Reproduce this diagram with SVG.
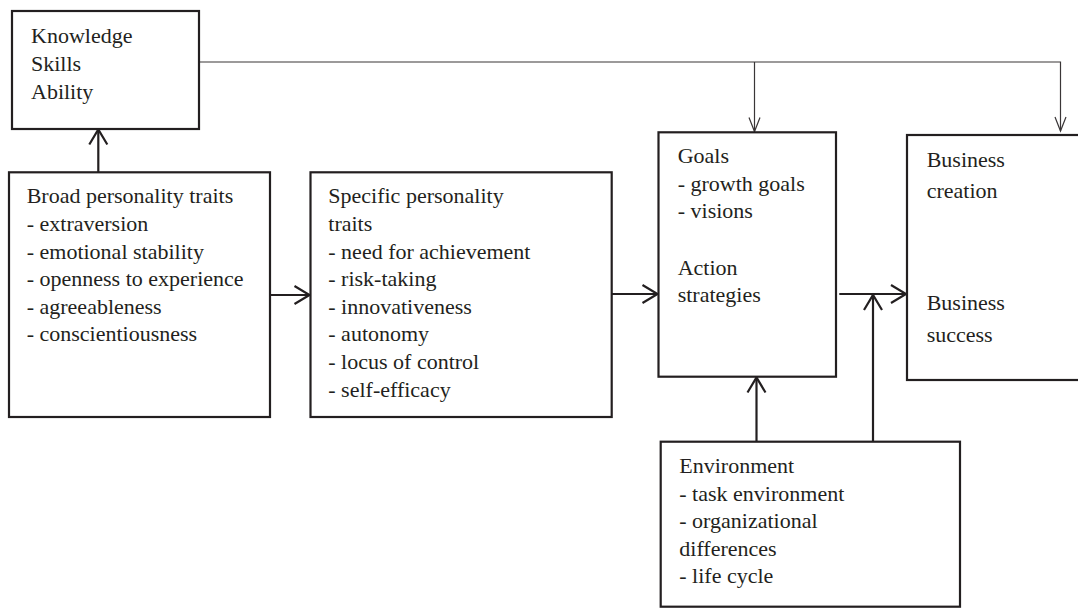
<svg xmlns="http://www.w3.org/2000/svg" width="1078" height="608" viewBox="0 0 1078 608">
  <style>
    .box { fill: #ffffff; stroke: #231f20; stroke-width: 2.2; }
    .lbl { font-family: "Liberation Serif", "Times New Roman", Times, serif; font-size: 22px; fill: #231f20; }
    .conn { fill: none; stroke: #231f20; stroke-width: 2.2; }
    .thin { fill: none; stroke: #3a3637; stroke-width: 1.2; }
  </style>
  <defs>
    <marker id="open" markerUnits="userSpaceOnUse" viewBox="-17 -11 19 22" refX="0" refY="0" markerWidth="19" markerHeight="22" orient="auto" overflow="visible">
      <path d="M-15,-9 L0,0 L-15,9" fill="none" stroke="#231f20" stroke-width="2.2"/>
    </marker>
    <marker id="openThin" markerUnits="userSpaceOnUse" viewBox="-15 -7 16 14" refX="0" refY="0" markerWidth="16" markerHeight="14" orient="auto" overflow="visible">
      <path d="M-14,-5.5 L0,0 L-14,5.5" fill="none" stroke="#3a3637" stroke-width="1.2"/>
    </marker>
  </defs>

  <!-- links between the boxes -->
  <g id="connectors">
    <path class="thin" d="M199,62 H1060.5 V131" marker-end="url(#openThin)"/>
    <path class="thin" d="M754.5,62 V131.5" marker-end="url(#openThin)"/>
    <path class="conn" d="M98.3,172 V129.5" marker-end="url(#open)"/>
    <path class="conn" d="M270,295 H309.5" marker-end="url(#open)"/>
    <path class="conn" d="M611.7,294 H657.5" marker-end="url(#open)"/>
    <path class="conn" d="M839.3,294 H906" marker-end="url(#open)"/>
    <path class="conn" d="M756.5,441.7 V377.5" marker-end="url(#open)"/>
    <path class="conn" d="M873,441.7 V295" marker-end="url(#open)"/>
  </g>

  <g id="ksa">
    <rect class="box" x="12" y="11" width="187" height="118"/>
    <text class="lbl" x="31" y="43">Knowledge</text>
    <text class="lbl" x="31" y="71">Skills</text>
    <text class="lbl" x="31" y="99">Ability</text>
  </g>

  <g id="broad">
    <rect class="box" x="9" y="172.3" width="261" height="244.7"/>
    <text class="lbl" x="26.7" y="203.3">Broad personality traits</text>
    <text class="lbl" x="26.7" y="231">- extraversion</text>
    <text class="lbl" x="26.7" y="258.6">- emotional stability</text>
    <text class="lbl" x="26.7" y="286.2">- openness to experience</text>
    <text class="lbl" x="26.7" y="313.8">- agreeableness</text>
    <text class="lbl" x="26.7" y="341.4">- conscientiousness</text>
  </g>

  <g id="specific">
    <rect class="box" x="310.5" y="172.3" width="301.2" height="244.7"/>
    <text class="lbl" x="328.3" y="203.3">Specific personality</text>
    <text class="lbl" x="328.3" y="231">traits</text>
    <text class="lbl" x="328.3" y="258.6">- need for achievement</text>
    <text class="lbl" x="328.3" y="286.2">- risk-taking</text>
    <text class="lbl" x="328.3" y="313.8">- innovativeness</text>
    <text class="lbl" x="328.3" y="341.4">- autonomy</text>
    <text class="lbl" x="328.3" y="369">- locus of control</text>
    <text class="lbl" x="328.3" y="396.6">- self-efficacy</text>
  </g>

  <g id="goals">
    <rect class="box" x="658.5" y="132.3" width="177.5" height="244.4"/>
    <text class="lbl" x="677.7" y="163.3">Goals</text>
    <text class="lbl" x="677.7" y="191">- growth goals</text>
    <text class="lbl" x="677.7" y="218.3">- visions</text>
    <text class="lbl" x="677.7" y="274.5">Action</text>
    <text class="lbl" x="677.7" y="301.7">strategies</text>
  </g>

  <g id="business">
    <rect class="box" x="907" y="135" width="180" height="245"/>
    <text class="lbl" x="926.7" y="167.3">Business</text>
    <text class="lbl" x="926.7" y="197.7">creation</text>
    <text class="lbl" x="926.7" y="310">Business</text>
    <text class="lbl" x="926.7" y="341.7">success</text>
  </g>

  <g id="environment">
    <rect class="box" x="660.7" y="441.7" width="299.3" height="165"/>
    <text class="lbl" x="679.3" y="473.3">Environment</text>
    <text class="lbl" x="679.3" y="500.5">- task environment</text>
    <text class="lbl" x="679.3" y="528.3">- organizational</text>
    <text class="lbl" x="679.3" y="555.7">differences</text>
    <text class="lbl" x="679.3" y="583.3">- life cycle</text>
  </g>
</svg>
